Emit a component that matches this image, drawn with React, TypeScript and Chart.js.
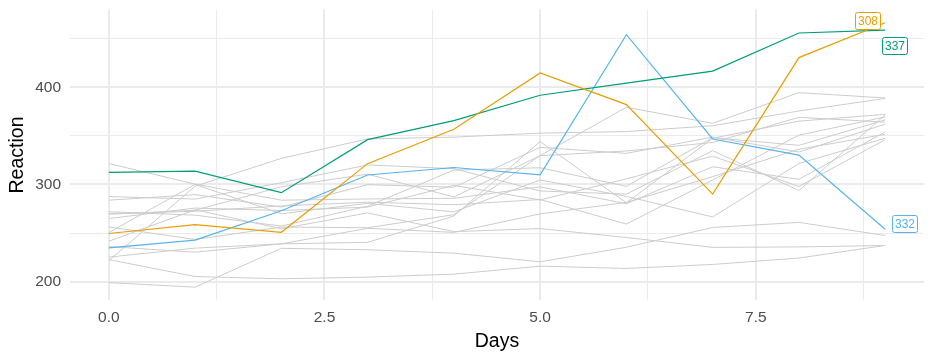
import React, { useEffect, useRef } from "react";
import { Chart, registerables } from "chart.js";
Chart.register(...registerables);

const days = [0, 1, 2, 3, 4, 5, 6, 7, 8, 9];
const xTicks = [0, 1.25, 2.5, 3.75, 5, 6.25, 7.5, 8.75];
const yTicks = [200, 250, 300, 350, 400, 450];

const s308 = [249.56, 258.7, 250.8, 321.44, 356.85, 414.69, 382.2, 290.15, 430.59, 466.35];
const s309 = [222.73, 205.27, 202.98, 204.71, 207.72, 215.96, 213.63, 217.73, 224.3, 237.31];
const s310 = [199.05, 194.33, 234.32, 232.84, 229.31, 220.46, 235.42, 255.75, 261.01, 247.52];
const s330 = [321.54, 300.4, 283.86, 285.13, 285.8, 297.59, 280.24, 318.26, 305.35, 354.05];
const s331 = [287.61, 285.0, 301.82, 320.12, 316.28, 293.32, 290.08, 334.82, 293.75, 371.58];
const s332 = [234.86, 242.81, 272.96, 309.77, 317.46, 310.0, 454.16, 346.83, 330.3, 253.86];
const s333 = [283.84, 289.56, 276.77, 299.81, 297.17, 338.17, 332.03, 348.84, 333.36, 362.04];
const s334 = [264.99, 275.75, 273.19, 276.73, 299.09, 284.11, 305.8, 329.18, 297.87, 346.11];
const s335 = [241.61, 273.95, 254.49, 270.8, 251.45, 254.64, 245.45, 235.31, 235.75, 237.25];
const s337 = [312.37, 313.81, 291.61, 346.12, 365.73, 391.84, 404.26, 416.69, 455.86, 458.92];
const s349 = [236.1, 230.32, 238.93, 254.92, 250.71, 269.77, 281.56, 308.1, 336.28, 351.65];
const s350 = [256.3, 243.45, 256.2, 255.53, 268.92, 329.72, 379.44, 362.92, 394.49, 389.05];
const s351 = [250.53, 300.06, 269.89, 280.59, 271.83, 304.63, 287.75, 266.6, 321.54, 347.57];
const s352 = [221.68, 298.19, 326.88, 346.86, 348.74, 352.83, 354.43, 360.43, 375.64, 388.54];
const s369 = [271.92, 268.44, 257.24, 277.66, 314.82, 317.21, 298.14, 348.12, 340.28, 366.51];
const s370 = [225.26, 234.52, 238.9, 240.47, 267.54, 344.19, 281.15, 347.59, 365.16, 372.23];
const s371 = [269.88, 272.44, 277.9, 281.79, 279.17, 284.51, 259.27, 304.63, 350.78, 369.47];
const s372 = [269.41, 273.47, 297.6, 310.63, 287.17, 329.61, 334.48, 343.22, 369.14, 364.12];

const greySubjects = ["309", "310", "330", "331", "333", "334", "335", "349", "350", "351", "352", "369", "370", "371", "372"];
const greySeries = [s309, s310, s330, s331, s333, s334, s335, s349, s350, s351, s352, s369, s370, s371, s372];

const highlightSubjects = ["308", "337", "332"];
const highlightSeries = [s308, s337, s332];
const highlightColors = ["#E69F00", "#009E73", "#56B4E9"];
const labelDx = [-18, 9, 19];
const labelDy = [-2, 15, -6];

const isMajorX = (v: number) => Math.abs(v / 2.5 - Math.round(v / 2.5)) < 1e-6;
const isMajorY = (v: number) => Math.abs(v / 100 - Math.round(v / 100)) < 1e-6;

const labelPlugin = {
  id: "endLabels",
  afterDatasetsDraw(chart: any) {
    const ctx = chart.ctx;
    ctx.save();
    ctx.font = "12px 'Liberation Sans', Arial, sans-serif";
    ctx.textAlign = "center";
    ctx.textBaseline = "middle";
    highlightSubjects.forEach((name, i) => {
      const meta = chart.getDatasetMeta(i);
      const pt = meta.data[meta.data.length - 1];
      const cx = pt.x + labelDx[i];
      const cy = pt.y + labelDy[i];
      const w = 25;
      const h = 17;
      const x0 = Math.round(cx - w / 2) + 0.5;
      const y0 = Math.round(cy - h / 2) + 0.5;
      ctx.beginPath();
      ctx.roundRect(x0, y0, w, h, 2);
      ctx.fillStyle = "#FFFFFF";
      ctx.fill();
      ctx.lineWidth = 1;
      ctx.strokeStyle = highlightColors[i];
      ctx.stroke();
      ctx.fillStyle = highlightColors[i];
      ctx.fillText(name, x0 + w / 2, y0 + h / 2 + 0.5);
    });
    ctx.restore();
  },
};

export default function App() {
  const ref = useRef<HTMLCanvasElement>(null);
  useEffect(() => {
    if (!ref.current) return;
    const datasets: any[] = [];
    highlightSeries.forEach((s, i) => {
      datasets.push({
        label: highlightSubjects[i],
        data: days.map((d, j) => ({ x: d, y: s[j] })),
        borderColor: highlightColors[i],
        borderWidth: 1.2,
        pointRadius: 0,
        tension: 0,
        order: 0,
      });
    });
    greySeries.forEach((s, i) => {
      datasets.push({
        label: greySubjects[i],
        data: days.map((d, j) => ({ x: d, y: s[j] })),
        borderColor: "#CCCCCC",
        borderWidth: 1,
        pointRadius: 0,
        tension: 0,
        order: 1,
      });
    });
    const tickFont = { family: "'Liberation Sans', Arial, sans-serif", size: 15.5 };
    const titleFont = { family: "'Liberation Sans', Arial, sans-serif", size: 19.5 };
    const chart = new Chart(ref.current, {
      type: "line",
      data: { datasets },
      plugins: [labelPlugin],
      options: {
        animation: false,
        responsive: false,
        devicePixelRatio: 1,
        layout: { padding: { top: 9.6, right: 12, left: 0, bottom: 0 } },
        plugins: { legend: { display: false }, tooltip: { enabled: false } },
        scales: {
          x: {
            type: "linear",
            min: -0.45,
            max: 9.45,
            afterBuildTicks: (scale: any) => {
              scale.ticks = xTicks.map((v) => ({ value: v }));
            },
            afterFit: (scale: any) => {
              scale.height = 59.6;
              scale.paddingLeft = 0;
              scale.paddingRight = 0;
              scale.paddingTop = 0;
              scale.paddingBottom = 0;
            },
            ticks: {
              autoSkip: false,
              maxRotation: 0,
              padding: 8,
              color: "#4D4D4D",
              font: tickFont,
              callback: (v: any) => (isMajorX(Number(v)) ? Number(v).toFixed(1) : ""),
            },
            grid: {
              color: "#EBEBEB",
              lineWidth: (c: any) => (c.tick && isMajorX(c.tick.value) ? 2 : 1),
              drawTicks: false,
            },
            border: { display: false },
            title: { display: true, text: "Days", color: "#000000", font: titleFont, padding: { top: 0, bottom: 7 } },
          },
          y: {
            type: "linear",
            min: 180.73,
            max: 479.95,
            afterBuildTicks: (scale: any) => {
              scale.ticks = yTicks.map((v) => ({ value: v }));
            },
            afterFit: (scale: any) => {
              scale.width = 70;
              scale.paddingLeft = 0;
              scale.paddingRight = 0;
              scale.paddingTop = 0;
              scale.paddingBottom = 0;
            },
            ticks: {
              autoSkip: false,
              padding: 9,
              color: "#4D4D4D",
              font: tickFont,
              callback: (v: any) => (isMajorY(Number(v)) ? String(v) : ""),
            },
            grid: {
              color: "#EBEBEB",
              lineWidth: (c: any) => (c.tick && isMajorY(c.tick.value) ? 2 : 1),
              drawTicks: false,
            },
            border: { display: false },
            title: { display: true, text: "Reaction", color: "#000000", font: titleFont, padding: { top: 6, bottom: 0 } },
          },
        },
      },
    });
    return () => chart.destroy();
  }, []);
  return (
    <div style={{ position: "absolute", left: 0, top: 0, width: 936, height: 360, background: "#FFFFFF" }}>
      <canvas ref={ref} width={936} height={360} style={{ display: "block" }} />
    </div>
  );
}
